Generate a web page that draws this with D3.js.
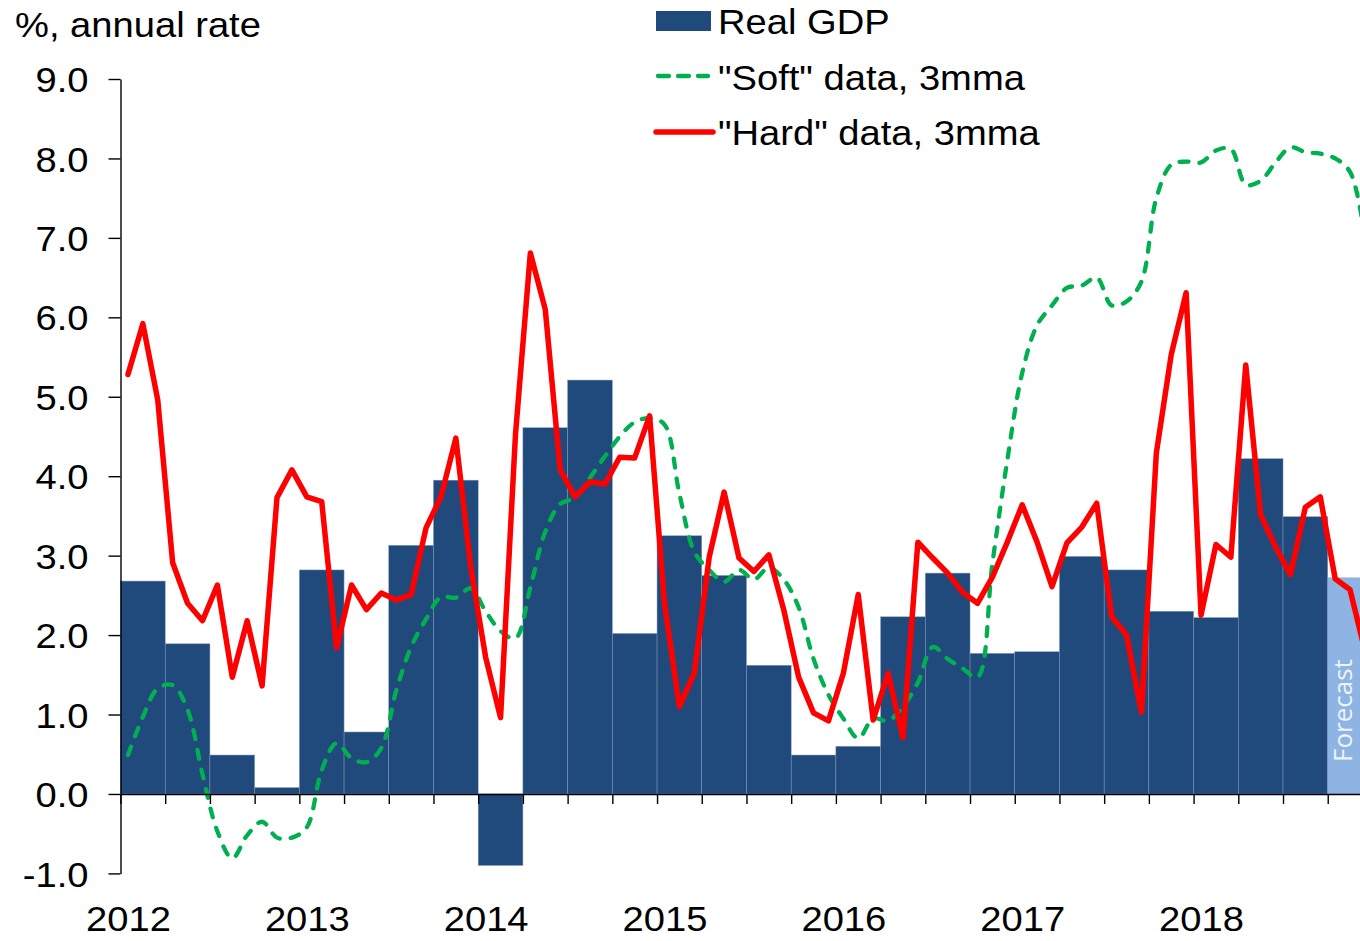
<!DOCTYPE html>
<html>
<head>
<meta charset="utf-8">
<script src="https://cdn.jsdelivr.net/npm/d3@7"></script>
<style>
  html, body { margin: 0; padding: 0; background: #fff; }
  svg { display: block; }
  text { font-family: "Liberation Sans", Arial, sans-serif; }
</style>
</head>
<body>
<svg id="chart" width="1360" height="941"></svg>
<script>
// ---- Data ----
const years = ["2012", "2013", "2014", "2015", "2016", "2017", "2018"];
const yTicks = [-1, 0, 1, 2, 3, 4, 5, 6, 7, 8, 9];
// Real GDP, quarterly, % annual rate (2012Q1 .. 2018Q4; last one is the forecast)
const gdp = [2.68, 1.89, 0.49, 0.08, 2.82, 0.78, 3.13, 3.95, -0.9, 4.61, 5.21, 2.02,
             3.25, 2.75, 1.62, 0.49, 0.6, 2.23, 2.78, 1.77, 1.79, 2.99, 2.82, 2.3,
             2.22, 4.22, 3.49, 2.72];
const forecastFrom = 27;
// "Hard" data, 3mma, monthly from Jan 2012
const hard = [5.28, 5.92, 4.96, 2.91, 2.40, 2.18, 2.63, 1.47, 2.18, 1.36, 3.73, 4.08,
              3.74, 3.68, 1.84, 2.63, 2.32, 2.53, 2.44, 2.51, 3.35, 3.74, 4.48, 2.85,
              1.72, 0.96, 4.52, 6.81, 6.10, 4.08, 3.74, 3.93, 3.90, 4.24, 4.23, 4.76,
              2.40, 1.10, 1.52, 2.98, 3.80, 2.97, 2.80, 3.01, 2.32, 1.47, 1.02, 0.92,
              1.52, 2.51, 0.93, 1.52, 0.71, 3.17, 2.97, 2.78, 2.54, 2.40, 2.73, 3.17,
              3.64, 3.17, 2.61, 3.16, 3.36, 3.66, 2.23, 2.00, 1.03, 4.29, 5.53, 6.31,
              2.25, 3.14, 2.98, 5.40, 3.51, 3.11, 2.76, 3.61, 3.74, 2.71, 2.57, 1.80];
// "Soft" data, 3mma, monthly from Jan 2012
const soft = [0.49, 0.97, 1.33, 1.37, 1.06, 0.25, -0.47, -0.81, -0.52, -0.35, -0.55, -0.55,
              -0.42, 0.30, 0.64, 0.45, 0.40, 0.58, 1.30, 1.85, 2.20, 2.48, 2.47, 2.59,
              2.30, 2.05, 1.96, 2.60, 3.30, 3.65, 3.73, 3.98, 4.25, 4.50, 4.68, 4.73,
              4.65, 3.78, 3.05, 2.82, 2.67, 2.82, 2.70, 2.85, 2.70, 2.35, 1.70, 1.25,
              0.95, 0.70, 0.95, 0.92, 1.10, 1.40, 1.85, 1.70, 1.58, 1.47, 2.90, 4.20,
              5.30, 5.90, 6.15, 6.37, 6.40, 6.50, 6.15, 6.20, 6.45, 7.50, 7.92, 7.96,
              7.95, 8.10, 8.12, 7.67, 7.72, 7.95, 8.14, 8.08, 8.06, 8.00, 7.83, 7.00];
const legendLabels = ["Real GDP", "\"Soft\" data, 3mma", "\"Hard\" data, 3mma"];
const title = "%, annual rate";
const forecastLabel = "Forecast";

// ---- Layout ----
const svg = d3.select("#chart");
const FS = 35, SX = 1.09;
const monthW = 14.904;
const x = d3.scaleLinear().domain([0, 84]).range([120.5, 120.5 + 84 * monthW]);
const y = d3.scaleLinear().domain([-1, 9]).range([873.4, 79]);

const navy = "#214A7C", lightBlue = "#8EB4E3", red = "#FF0000", green = "#00B050";

// Bars
svg.append("g").selectAll("rect").data(gdp).join("rect")
  .attr("x", (d, i) => x(i * 3))
  .attr("width", (d, i) => x(i * 3 + 3) - x(i * 3))
  .attr("y", d => y(Math.max(0, d)))
  .attr("height", d => Math.abs(y(d) - y(0)))
  .attr("fill", (d, i) => i >= forecastFrom ? lightBlue : navy)
  .attr("stroke", "#7f98b8").attr("stroke-width", 0.5);

// Forecast label
const fi = forecastFrom;
svg.append("text")
  .attr("transform", `translate(${x(fi * 3) + 24},${y(0) - 32}) rotate(-90)`)
  .style("font-family", "'Open Sans', sans-serif")
  .attr("font-size", 26).attr("fill", "#eef3fa")
  .text(forecastLabel);

// Lines
const mx = (d, i) => x(i + 0.5);
svg.append("path").datum(soft)
  .attr("d", d3.line().x(mx).y(d => y(d)).curve(d3.curveCatmullRom.alpha(0.5)))
  .attr("fill", "none").attr("stroke", green).attr("stroke-width", 4.3)
  .attr("stroke-dasharray", "9,11").attr("stroke-linecap", "round");
svg.append("path").datum(hard)
  .attr("d", d3.line().x(mx).y(d => y(d)))
  .attr("fill", "none").attr("stroke", red).attr("stroke-width", 5.5)
  .attr("stroke-linejoin", "round").attr("stroke-linecap", "round");

// Axes
const gy = svg.append("g").attr("transform", `translate(${x(0)},0)`)
  .call(d3.axisLeft(y).tickValues(yTicks).tickFormat(d => d.toFixed(1)).tickSize(12).tickSizeOuter(0));
gy.selectAll("path,line").attr("stroke", "#000").attr("stroke-width", 1.4);
gy.selectAll("text").attr("x", 0).attr("dy", "0.36em")
  .attr("transform", "translate(-32,0) scale(" + SX + ",1)")
  .attr("font-size", FS).attr("font-family", "'Liberation Sans', Arial, sans-serif").attr("fill", "#000");

const gx = svg.append("g").attr("transform", `translate(0,${y(0)})`)
  .call(d3.axisBottom(x).tickValues(d3.range(0, 85, 3)).tickFormat("").tickSize(10).tickSizeOuter(0));
gx.selectAll("path,line").attr("stroke", "#000").attr("stroke-width", 1.4);

const gyear = svg.append("g").attr("transform", "translate(0,931)")
  .call(d3.axisBottom(x).tickValues(years.map((d, i) => i * 12 + 0.5))
    .tickFormat((d, i) => years[i]).tickSize(0));
gyear.select(".domain").remove();
gyear.selectAll("text").attr("y", 0).attr("dy", 0)
  .attr("transform", "scale(" + SX + ",1)")
  .attr("font-size", FS).attr("font-family", "'Liberation Sans', Arial, sans-serif").attr("fill", "#000");

// Title
svg.append("text").attr("transform", `translate(15,37) scale(${SX},1)`)
  .attr("font-size", FS).attr("fill", "#000").text(title);

// Legend
const lg = svg.append("g");
const lgY = [21, 76, 132];
lg.append("rect").attr("x", 656).attr("y", 11).attr("width", 55).attr("height", 20).attr("fill", navy);
lg.append("line").attr("x1", 658).attr("x2", 708).attr("y1", lgY[1]).attr("y2", lgY[1])
  .attr("stroke", green).attr("stroke-width", 4.3).attr("stroke-dasharray", "11,9").attr("stroke-linecap", "round");
lg.append("line").attr("x1", 656).attr("x2", 713).attr("y1", lgY[2]).attr("y2", lgY[2])
  .attr("stroke", red).attr("stroke-width", 5.5).attr("stroke-linecap", "round");
lg.selectAll("text.lab").data(legendLabels).join("text").attr("class", "lab")
  .attr("transform", (d, i) => `translate(718,${[33.5, 89.5, 145][i]}) scale(${SX},1)`)
  .attr("font-size", FS).attr("fill", "#000").text(d => d);
</script>
</body>
</html>
